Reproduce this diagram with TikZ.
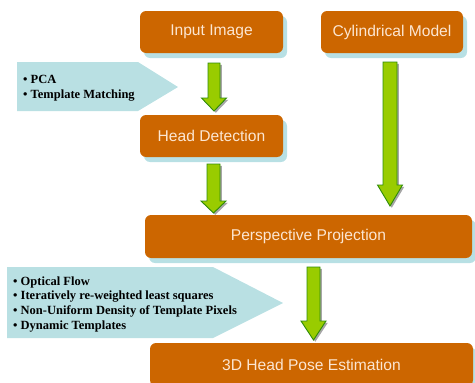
\documentclass[tikz,border=0pt]{standalone}
\usepackage{fontspec}
\setmainfont{Liberation Sans}
\newfontfamily\calfont{Liberation Serif}
\usetikzlibrary{shadows}
\definecolor{boxorange}{HTML}{CC6600}
\definecolor{shadowblue}{HTML}{B8E0E4}
\definecolor{calloutblue}{HTML}{B9E0E3}
\definecolor{arrowgreen}{HTML}{99CC00}
\definecolor{arrowedge}{HTML}{2E8B0A}
\definecolor{boxtext}{HTML}{FCE6D2}
\tikzset{
  procbox/.style={fill=boxorange, rounded corners=6pt, draw=none, inner sep=0pt,
    text=boxtext, font=\fontsize{15.6}{18}\selectfont,
    drop shadow={shadow xshift=4pt, shadow yshift=-5pt, fill=shadowblue, opacity=1}},
  callout/.style={fill=calloutblue, draw=none},
  calltext/.style={font=\calfont\bfseries\fontsize{12.5}{14.7}\selectfont, anchor=base west, inner sep=0pt},
  garrow/.style={fill=arrowgreen, draw=arrowedge, line width=0.9pt, line join=miter},
  garrowshadow/.style={fill=black!35, draw=none},
}
% xc, ytop, yhead, ytip, halfshaft, halfhead
\newcommand\arrowpath[6]{(#1-#5,#2) -- (#1+#5,#2) -- (#1+#5,#3) -- (#1+#6,#3) -- (#1,#4) -- (#1-#6,#3) -- (#1-#5,#3) -- cycle}
\newcommand\blockarrow[6]{%
  \begin{scope}[shift={(1.8,1.8)}]\fill[garrowshadow] \arrowpath{#1}{#2}{#3}{#4}{#5}{#6};\end{scope}
  \draw[garrow] \arrowpath{#1}{#2}{#3}{#4}{#5}{#6};}
\begin{document}
\begin{tikzpicture}[x=1pt,y=-1pt]
\useasboundingbox (0,0) rectangle (475,383);
\clip (0,0) rectangle (475,383);
% process boxes
\node[procbox, minimum width=143pt, minimum height=42pt] (input) at (211.5,32) {Input Image};
\node[procbox, minimum width=142pt, minimum height=42pt] (cyl) at (392,32) {Cylindrical Model};
\node[procbox, minimum width=143pt, minimum height=42pt] (head) at (211.5,136) {Head Detection};
\node[procbox, minimum width=327pt, minimum height=43pt] (persp) at (308.5,236.5) {Perspective Projection};
\node[procbox, minimum width=323pt, minimum height=43pt] (pose) at (311.5,364.5) {3D Head Pose Estimation};
% callouts
\fill[callout] (17,62) -- (138,62) -- (178,87) -- (138,111) -- (17,111) -- cycle;
\node[calltext] (c1a) at (23,83) {• PCA};
\node[calltext] (c1b) at (23,98) {• Template Matching};
\fill[callout] (7,267) -- (213,267) -- (283,303) -- (213,338) -- (7,338) -- cycle;
\node[calltext] (c2a) at (13,285) {• Optical Flow};
\node[calltext] (c2b) at (13,299.7) {• Iteratively re-weighted least squares};
\node[calltext] (c2c) at (13,314.4) {• Non-Uniform Density of Template Pixels};
\node[calltext] (c2d) at (13,329) {• Dynamic Templates};
% green arrows
\blockarrow{214}{63}{98}{111}{6}{12.5}
\blockarrow{213.5}{164}{201}{213}{6.5}{12.5}
\blockarrow{390}{62}{185}{206}{7}{12.5}
\blockarrow{313.5}{267}{321}{340}{6.5}{12.5}
\end{tikzpicture}
\end{document}
